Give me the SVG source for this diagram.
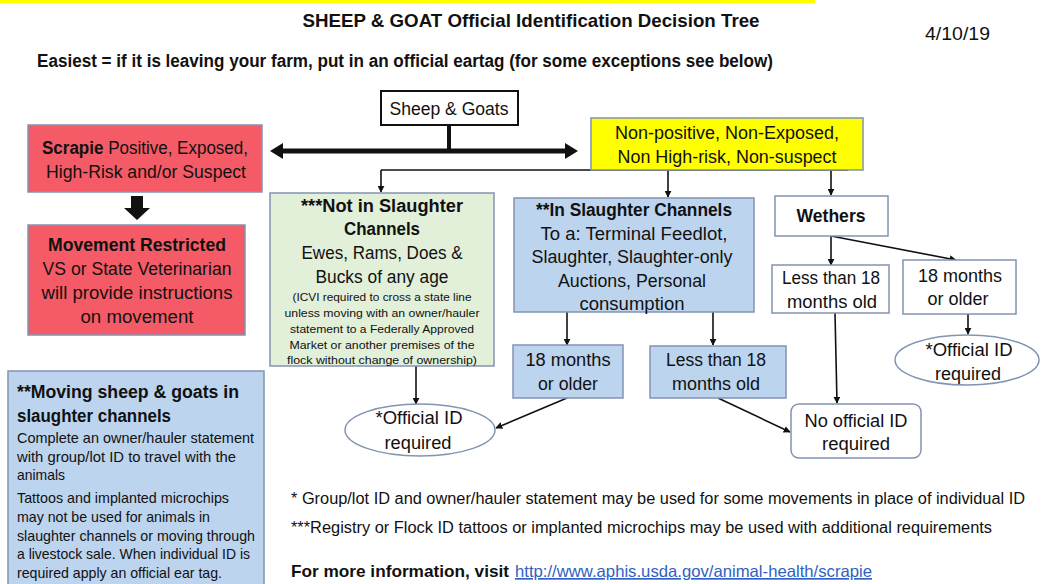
<svg xmlns="http://www.w3.org/2000/svg" width="1042" height="584" viewBox="0 0 1042 584">
<style>
text{font-family:"Liberation Sans",Arial,sans-serif;fill:#111;}
.c{text-anchor:middle;}
.b{font-weight:bold;}
.m{font-size:17.5px;}
.s{font-size:11.5px;}
.n{font-size:14.5px;}
.f{font-size:16px;}
.box{stroke:#8393b3;stroke-width:1.5;}
.red{fill:#f45b66;}
.blue{fill:#bcd4ee;}
.green{fill:#e2efd9;}
.white{fill:#fff;}
.ln{stroke:#111;stroke-width:1.6;fill:none;}
</style>
<defs>
<marker id="ah" viewBox="0 0 10 10" refX="9" refY="5" markerWidth="7" markerHeight="7" markerUnits="userSpaceOnUse" orient="auto"><path d="M0,0L10,5L0,10z" fill="#111"/></marker>
</defs>
<rect x="0" y="0" width="815" height="3" fill="#ffff00"/>
<g id="header">
<text class="c b" x="531" y="27" font-size="19" textLength="457" lengthAdjust="spacingAndGlyphs">SHEEP &amp; GOAT Official Identification Decision Tree</text>
<text x="925" y="40" font-size="18" textLength="65" lengthAdjust="spacingAndGlyphs">4/10/19</text>
<text class="b" x="37" y="67" font-size="18" textLength="736" lengthAdjust="spacingAndGlyphs">Easiest = if it is leaving your farm, put in an official eartag (for some exceptions see below)</text>
</g>
<g id="connectors">
<line x1="449" y1="125" x2="449" y2="151" stroke="#111" stroke-width="4"/>
<line x1="282" y1="151" x2="566" y2="151" stroke="#111" stroke-width="5"/>
<path d="M270,151L283,143L283,159z" fill="#111"/>
<path d="M578,151L565,143L565,159z" fill="#111"/>
<path d="M131,196H143V208H150L137,220L124,208H131z" fill="#111"/>
<line class="ln" x1="381" y1="170" x2="848" y2="170"/>
<line class="ln" x1="381" y1="170" x2="381" y2="192" marker-end="url(#ah)"/>
<line class="ln" x1="668" y1="170" x2="668" y2="197" marker-end="url(#ah)"/>
<line class="ln" x1="831" y1="170" x2="831" y2="195" marker-end="url(#ah)"/>
<line class="ln" x1="567" y1="312" x2="567" y2="345" marker-end="url(#ah)"/>
<line class="ln" x1="713" y1="312" x2="713" y2="345" marker-end="url(#ah)"/>
<line class="ln" x1="831" y1="236" x2="831" y2="265" marker-end="url(#ah)"/>
<line class="ln" x1="831" y1="236" x2="956" y2="260" marker-end="url(#ah)"/>
<line class="ln" x1="968" y1="314" x2="968" y2="334" marker-end="url(#ah)"/>
<line class="ln" x1="835" y1="313" x2="837" y2="403" marker-end="url(#ah)"/>
<line class="ln" x1="718" y1="398" x2="790" y2="432" marker-end="url(#ah)"/>
<line class="ln" x1="416" y1="366" x2="416" y2="404" marker-end="url(#ah)"/>
<line class="ln" x1="567" y1="398" x2="496" y2="428" marker-end="url(#ah)"/>
</g>
<g id="sheep-goats">
<rect x="381" y="91" width="137" height="34" fill="#fff" stroke="#111" stroke-width="2"/>
<text class="c m" x="449" y="115" textLength="119" lengthAdjust="spacingAndGlyphs">Sheep &amp; Goats</text>
</g>
<g id="scrapie">
<rect class="box red" x="28" y="125" width="234" height="67"/>
<text class="m" x="42" y="154" textLength="206" lengthAdjust="spacingAndGlyphs"><tspan class="b">Scrapie</tspan> Positive, Exposed,</text>
<text class="c m" x="146" y="178" textLength="200" lengthAdjust="spacingAndGlyphs">High-Risk and/or Suspect</text>
</g>
<g id="movement-restricted">
<rect class="box red" x="28" y="225" width="217" height="110"/>
<text class="c m b" x="137" y="251" textLength="178" lengthAdjust="spacingAndGlyphs">Movement Restricted</text>
<text class="c m" x="137" y="275" textLength="189" lengthAdjust="spacingAndGlyphs">VS or State Veterinarian</text>
<text class="c m" x="137" y="299" textLength="191" lengthAdjust="spacingAndGlyphs">will provide instructions</text>
<text class="c m" x="137" y="323" textLength="113" lengthAdjust="spacingAndGlyphs">on movement</text>
</g>
<g id="non-positive">
<rect class="box" x="591" y="118" width="272" height="52" fill="#ffff00"/>
<text class="c m" x="727" y="139" textLength="224" lengthAdjust="spacingAndGlyphs">Non-positive, Non-Exposed,</text>
<text class="c m" x="727" y="163" textLength="219" lengthAdjust="spacingAndGlyphs">Non High-risk, Non-suspect</text>
</g>
<g id="not-slaughter">
<rect class="box green" x="270" y="193" width="224" height="173"/>
<text class="c m b" x="382" y="212" textLength="162" lengthAdjust="spacingAndGlyphs">***Not in Slaughter</text>
<text class="c m b" x="382" y="235" textLength="76" lengthAdjust="spacingAndGlyphs">Channels</text>
<text class="c m" x="382" y="259" textLength="161" lengthAdjust="spacingAndGlyphs">Ewes, Rams, Does &amp;</text>
<text class="c m" x="382" y="283" textLength="133" lengthAdjust="spacingAndGlyphs">Bucks of any age</text>
<text class="c s" x="382" y="301" textLength="179" lengthAdjust="spacingAndGlyphs">(ICVI required to cross a state line</text>
<text class="c s" x="382" y="317" textLength="195" lengthAdjust="spacingAndGlyphs">unless moving with an owner/hauler</text>
<text class="c s" x="382" y="333" textLength="184" lengthAdjust="spacingAndGlyphs">statement to a Federally Approved</text>
<text class="c s" x="382" y="349" textLength="185" lengthAdjust="spacingAndGlyphs">Market or another premises of the</text>
<text class="c s" x="382" y="364" textLength="190" lengthAdjust="spacingAndGlyphs">flock without change of ownership)</text>
</g>
<g id="in-slaughter">
<rect class="box blue" x="514" y="198" width="240" height="114"/>
<text class="c m b" x="634" y="216" textLength="196" lengthAdjust="spacingAndGlyphs">**In Slaughter Channels</text>
<text class="c m" x="634" y="240" textLength="187" lengthAdjust="spacingAndGlyphs">To a: Terminal Feedlot,</text>
<text class="c m" x="632" y="263" textLength="201" lengthAdjust="spacingAndGlyphs">Slaughter, Slaughter-only</text>
<text class="c m" x="632" y="287" textLength="148" lengthAdjust="spacingAndGlyphs">Auctions, Personal</text>
<text class="c m" x="632" y="310" textLength="105" lengthAdjust="spacingAndGlyphs">consumption</text>
</g>
<g id="slaughter-18-older">
<rect class="box blue" x="513" y="345" width="110" height="53"/>
<text class="c m" x="568" y="366" textLength="85" lengthAdjust="spacingAndGlyphs">18 months</text>
<text class="c m" x="568" y="390" textLength="60" lengthAdjust="spacingAndGlyphs">or older</text>
</g>
<g id="slaughter-less-18">
<rect class="box blue" x="650" y="346" width="136" height="52"/>
<text class="c m" x="716" y="366" textLength="100" lengthAdjust="spacingAndGlyphs">Less than 18</text>
<text class="c m" x="716" y="390" textLength="88" lengthAdjust="spacingAndGlyphs">months old</text>
</g>
<g id="wethers">
<rect class="box white" x="775" y="196" width="113" height="40"/>
<text class="c m b" x="831" y="222" textLength="69" lengthAdjust="spacingAndGlyphs">Wethers</text>
</g>
<g id="wethers-less-18">
<rect class="box white" x="772" y="265" width="117" height="48"/>
<text class="c m" x="831" y="284" textLength="98" lengthAdjust="spacingAndGlyphs">Less than 18</text>
<text class="c m" x="832" y="308" textLength="90" lengthAdjust="spacingAndGlyphs">months old</text>
</g>
<g id="wethers-18-older">
<rect class="box white" x="903" y="260" width="113" height="54"/>
<text class="c m" x="960" y="282" textLength="84" lengthAdjust="spacingAndGlyphs">18 months</text>
<text class="c m" x="958" y="305" textLength="61" lengthAdjust="spacingAndGlyphs">or older</text>
</g>
<g id="official-id-right">
<ellipse class="box white" cx="967" cy="360" rx="72" ry="25"/>
<text class="c m" x="969" y="356" textLength="87" lengthAdjust="spacingAndGlyphs">*Official ID</text>
<text class="c m" x="968" y="380" textLength="66" lengthAdjust="spacingAndGlyphs">required</text>
</g>
<g id="no-official-id">
<rect class="box white" x="791" y="404" width="130" height="54" rx="8"/>
<text class="c m" x="856" y="427" textLength="103" lengthAdjust="spacingAndGlyphs">No official ID</text>
<text class="c m" x="856" y="450" textLength="68" lengthAdjust="spacingAndGlyphs">required</text>
</g>
<g id="official-id-left">
<ellipse class="box white" cx="420" cy="430" rx="75" ry="26"/>
<text class="c m" x="419" y="424" textLength="87" lengthAdjust="spacingAndGlyphs">*Official ID</text>
<text class="c m" x="418" y="449" textLength="67" lengthAdjust="spacingAndGlyphs">required</text>
</g>
<g id="moving-note">
<rect class="box blue" x="8" y="371" width="256" height="220"/>
<text class="b" x="17" y="398" font-size="18" textLength="222" lengthAdjust="spacingAndGlyphs">**Moving sheep &amp; goats in</text>
<text class="b" x="17" y="422" font-size="18" textLength="154" lengthAdjust="spacingAndGlyphs">slaughter channels</text>
<text class="n" x="17" y="443" textLength="237" lengthAdjust="spacingAndGlyphs">Complete an owner/hauler statement</text>
<text class="n" x="17" y="462" textLength="219" lengthAdjust="spacingAndGlyphs">with group/lot ID to travel with the</text>
<text class="n" x="17" y="480" textLength="48" lengthAdjust="spacingAndGlyphs">animals</text>
<text class="n" x="17" y="503" textLength="212" lengthAdjust="spacingAndGlyphs">Tattoos and implanted microchips</text>
<text class="n" x="17" y="522" textLength="193" lengthAdjust="spacingAndGlyphs">may not be used for animals in</text>
<text class="n" x="17" y="541" textLength="238" lengthAdjust="spacingAndGlyphs">slaughter channels or moving through</text>
<text class="n" x="17" y="559" textLength="233" lengthAdjust="spacingAndGlyphs">a livestock sale. When individual ID is</text>
<text class="n" x="17" y="578" textLength="205" lengthAdjust="spacingAndGlyphs">required apply an official ear tag.</text>
</g>
<g id="footnotes">
<text class="f" x="291" y="504" textLength="734" lengthAdjust="spacingAndGlyphs">* Group/lot ID and owner/hauler statement may be used for some movements in place of individual ID</text>
<text class="f" x="291" y="533" textLength="701" lengthAdjust="spacingAndGlyphs">***Registry or Flock ID tattoos or implanted microchips may be used with additional requirements</text>
<text class="b" x="291" y="577" font-size="17" textLength="218" lengthAdjust="spacingAndGlyphs">For more information, visit</text>
<text x="515" y="577" font-size="16.5" style="fill:#2f5fc4" text-decoration="underline" textLength="357" lengthAdjust="spacingAndGlyphs">http://www.aphis.usda.gov/animal-health/scrapie</text>
</g>
</svg>
